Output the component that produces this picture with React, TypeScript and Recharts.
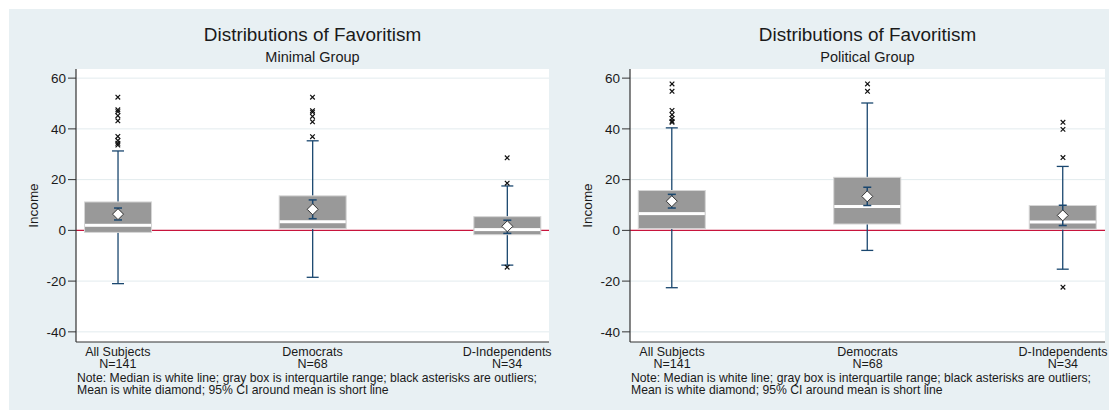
import { ComposedChart, Bar, Scatter, XAxis, YAxis, CartesianGrid, Label } from 'recharts'

// ─── Data ────────────────────────────────────────────────────────────────────

const categories = ['All Subjects', 'Democrats', 'D-Independents']
const counts = [141, 68, 34]
const yTicks = [-40, -20, 0, 20, 40, 60]
const gridValues = [-40, -20, 20, 40, 60]
const zeroLine = [0]

// Minimal group
const minimalLower = [-21, -18.5, -13.7]
const minimalQ1 = [-0.8, 0.7, -1.7]
const minimalMedian = [2, 3.4, 0.3]
const minimalQ3 = [11.2, 13.6, 5.4]
const minimalUpper = [31.3, 35.3, 17.5]
const minimalMean = [6.4, 8.3, 1.6]
const minimalCiLow = [4.1, 4.6, -1.2]
const minimalCiHigh = [8.8, 12, 4]
const minimalOutliers = [
  [52.5, 47.5, 46.8, 45.2, 43.2, 37, 35.4, 34.3, 33.6],
  [52.5, 47.2, 46.6, 44.9, 42.8, 36.9],
  [28.6, 18.6, -14.5],
]

// Political group
const politicalLower = [-22.6, -7.9, -15.3]
const politicalQ1 = [0.7, 2.5, 0.5]
const politicalMedian = [6.6, 9.4, 3.3]
const politicalQ3 = [15.7, 20.9, 9.8]
const politicalUpper = [40.4, 50.2, 25.2]
const politicalMean = [11.5, 13.4, 5.9]
const politicalCiLow = [8.8, 9.8, 1.9]
const politicalCiHigh = [14.2, 17, 9.9]
const politicalOutliers = [
  [57.7, 54.8, 47.3, 45.6, 44.1, 43, 42.6],
  [57.7, 54.8],
  [42.6, 39.8, 28.7, -22.4],
]

// ─── Styles ──────────────────────────────────────────────────────────────────

const FONT = '"Liberation Sans", Arial, sans-serif'
const NAVY = '#1a476f'
const BOX_GRAY = '#999999'
const PANEL_BG = '#e8f0f3'
const TEXT = '#1a1a1a'

// ─── Shapes ──────────────────────────────────────────────────────────────────

// Whole box plot, positioned from the range bar [lower, upper] that Recharts lays out
function BoxShape(props: any) {
  const { x, y, width, height, payload } = props
  if (x == null || y == null || !payload) return null
  const top = Math.min(y, y + height)
  const bottom = Math.max(y, y + height)
  const span = payload.upper - payload.lower
  const py = (v: number) => bottom - ((v - payload.lower) / span) * (bottom - top)
  const cx = x + width / 2
  const yQ1 = py(payload.q1)
  const yQ3 = py(payload.q3)
  const yMed = py(payload.median)
  const yMean = py(payload.mean)
  const yCiLo = py(payload.ciLow)
  const yCiHi = py(payload.ciHigh)
  const d = 5.5
  return (
    <g>
      <line x1={cx} x2={cx} y1={top} y2={bottom} stroke={NAVY} strokeWidth={1.3} />
      <line x1={cx - 6} x2={cx + 6} y1={top} y2={top} stroke={NAVY} strokeWidth={1.3} />
      <line x1={cx - 6} x2={cx + 6} y1={bottom} y2={bottom} stroke={NAVY} strokeWidth={1.3} />
      <rect x={x} y={yQ3} width={width} height={yQ1 - yQ3} fill={BOX_GRAY} stroke="#d6d6d6" strokeWidth={1} />
      <rect x={x + 0.5} y={yMed - 1.5} width={width - 1} height={3} fill="#ffffff" />
      <line x1={cx} x2={cx} y1={yCiHi} y2={yCiLo} stroke={NAVY} strokeWidth={1.5} />
      <line x1={cx - 4} x2={cx + 4} y1={yCiHi} y2={yCiHi} stroke={NAVY} strokeWidth={1.5} />
      <line x1={cx - 4} x2={cx + 4} y1={yCiLo} y2={yCiLo} stroke={NAVY} strokeWidth={1.5} />
      <path
        d={`M${cx},${yMean - d}L${cx + d},${yMean}L${cx},${yMean + d}L${cx - d},${yMean}Z`}
        fill="#ffffff"
        stroke="#333333"
        strokeWidth={1}
      />
    </g>
  )
}

function Cross(props: any) {
  const { cx, cy } = props
  if (cx == null || cy == null) return null
  const r = 2.3
  return (
    <path
      d={`M${cx - r},${cy - r}L${cx + r},${cy + r}M${cx - r},${cy + r}L${cx + r},${cy - r}`}
      stroke="#111111"
      strokeWidth={1.2}
    />
  )
}

function CategoryTick(props: any) {
  const { x, y, payload } = props
  const i = payload.value as number
  return (
    <g fontFamily={FONT} fontSize={12.5}>
      <text x={x} y={y} dy={14} textAnchor="middle" fill={TEXT}>
        {categories[i]}
      </text>
      <text x={x} y={y} dy={26} textAnchor="middle" fill={TEXT}>
        N={counts[i]}
      </text>
    </g>
  )
}

// ─── Panel ───────────────────────────────────────────────────────────────────

interface PanelProps {
  subtitle: string
  lower: number[]
  q1: number[]
  median: number[]
  q3: number[]
  upper: number[]
  mean: number[]
  ciLow: number[]
  ciHigh: number[]
  outliers: number[][]
  left: number
  width: number
  axisWidth: number
  rightMargin: number
}

const PANEL_HEIGHT = 401

function Panel(p: PanelProps) {
  const rows = categories.map((name, i) => ({
    x: i,
    name,
    lower: p.lower[i],
    q1: p.q1[i],
    median: p.median[i],
    q3: p.q3[i],
    upper: p.upper[i],
    mean: p.mean[i],
    ciLow: p.ciLow[i],
    ciHigh: p.ciHigh[i],
  }))
  const outlierRows = p.outliers.flatMap((vals, i) => vals.map((v) => ({ x: i, y: v })))
  const plotWidth = p.width - p.axisWidth - p.rightMargin

  return (
    <div style={{ position: 'absolute', left: p.left, top: 9, width: p.width, height: PANEL_HEIGHT }}>
      <div
        style={{
          position: 'absolute',
          left: p.axisWidth,
          width: plotWidth,
          top: 14,
          textAlign: 'center',
          fontFamily: FONT,
          color: TEXT,
        }}
      >
        <div style={{ fontSize: 18.9, lineHeight: '23px' }}>Distributions of Favoritism</div>
        <div style={{ fontSize: 14.5, lineHeight: '20px', marginTop: 1 }}>{p.subtitle}</div>
      </div>

      <ComposedChart
        width={p.width}
        height={PANEL_HEIGHT}
        data={rows}
        margin={{ top: 60, right: p.rightMargin, bottom: 0, left: 0 }}
      >
        <CartesianGrid
          vertical={false}
          horizontalValues={gridValues}
          stroke="#e2ebee"
          fill="#ffffff"
        />
        {/* zero line sits under the boxes, so it is drawn as a grid line */}
        <CartesianGrid
          vertical={false}
          horizontalValues={zeroLine}
          stroke="#c8143c"
          strokeWidth={1.3}
          fill="none"
        />
        <XAxis
          type="number"
          dataKey="x"
          domain={[-0.215, 2.215]}
          ticks={[0, 1, 2]}
          interval={0}
          allowDataOverflow
          tick={<CategoryTick />}
          tickLine={false}
          tickSize={0}
          tickMargin={0}
          axisLine={{ stroke: '#333333', strokeWidth: 1.2 }}
          height={68}
        />
        <YAxis
          type="number"
          domain={[-44, 63.6]}
          ticks={yTicks}
          interval={0}
          allowDataOverflow
          width={p.axisWidth}
          tickSize={8}
          tickMargin={2}
          tickLine={{ stroke: '#333333' }}
          axisLine={{ stroke: '#333333', strokeWidth: 1.2 }}
          tick={{ fill: TEXT, fontSize: 13.5, fontFamily: FONT }}
        >
          <Label
            content={({ viewBox }: any) => {
              const lx = viewBox.x + viewBox.width - 43
              const ly = viewBox.y + viewBox.height / 2
              return (
                <text
                  x={lx}
                  y={ly}
                  transform={`rotate(-90, ${lx}, ${ly})`}
                  textAnchor="middle"
                  dominantBaseline="central"
                  fontFamily={FONT}
                  fontSize={13.5}
                  fill={TEXT}
                >
                  Income
                </text>
              )
            }}
          />
        </YAxis>
        <Bar
          dataKey={(d: any) => [d.lower, d.upper]}
          barSize={67}
          shape={(props: any) => <BoxShape {...props} />}
          isAnimationActive={false}
        />
        <Scatter data={outlierRows} dataKey="y" shape={(props: any) => <Cross {...props} />} isAnimationActive={false} />
      </ComposedChart>

      <div
        style={{
          position: 'absolute',
          left: p.axisWidth + 1,
          top: 363,
          fontFamily: FONT,
          fontSize: 12.2,
          lineHeight: '12px',
          color: TEXT,
          whiteSpace: 'nowrap',
        }}
      >
        <div>Note: Median is white line; gray box is interquartile range; black asterisks are outliers;</div>
        <div>Mean is white diamond; 95% CI around mean is short line</div>
      </div>
    </div>
  )
}

// ─── App ─────────────────────────────────────────────────────────────────────

export default function App() {
  return (
    <div style={{ position: 'absolute', left: 0, top: 0, width: 1109, height: 410, background: '#ffffff' }}>
      <div style={{ position: 'absolute', left: 9, top: 9, width: 1100, height: 401, background: PANEL_BG }} />
      <Panel
        subtitle="Minimal Group"
        lower={minimalLower}
        q1={minimalQ1}
        median={minimalMedian}
        q3={minimalQ3}
        upper={minimalUpper}
        mean={minimalMean}
        ciLow={minimalCiLow}
        ciHigh={minimalCiHigh}
        outliers={minimalOutliers}
        left={9}
        width={546}
        axisWidth={67}
        rightMargin={6}
      />
      <Panel
        subtitle="Political Group"
        lower={politicalLower}
        q1={politicalQ1}
        median={politicalMedian}
        q3={politicalQ3}
        upper={politicalUpper}
        mean={politicalMean}
        ciLow={politicalCiLow}
        ciHigh={politicalCiHigh}
        outliers={politicalOutliers}
        left={555}
        width={554}
        axisWidth={75}
        rightMargin={4}
      />
    </div>
  )
}
